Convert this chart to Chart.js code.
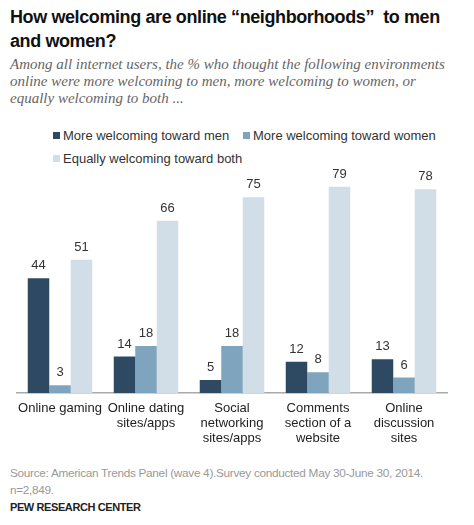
<!DOCTYPE html>
<html>
<head>
<meta charset="utf-8">
<script src="https://cdn.jsdelivr.net/npm/chart.js@4"></script>
<style>
  body { margin: 0; background: #fff; width: 474px; height: 525px; position: relative; overflow: hidden; font-family: "Liberation Sans", Arial, sans-serif; }
  #title { position: absolute; left: 10px; top: 5px; font-weight: bold; font-size: 18px; line-height: 24px; color: #111; letter-spacing: -0.4px; }
  #subtitle { position: absolute; left: 10px; top: 56px; font-family: "Liberation Serif", serif; font-style: italic; font-size: 15px; line-height: 17px; color: #666; }
  #legend { position: absolute; left: 53px; top: 128px; font-size: 13px; color: #333; }
  .item { position: absolute; white-space: nowrap; }
  .item span { display: inline-block; width: 7px; height: 7px; margin-right: 3px; vertical-align: 1px; }
  #chartBox { position: absolute; left: 0; top: 150px; width: 474px; height: 304px; }
  #source { position: absolute; left: 10px; top: 465px; font-size: 11.8px; letter-spacing: -0.3px; line-height: 17px; color: #999; }
  #pew { position: absolute; left: 10px; top: 501px; font-size: 11px; letter-spacing: -0.4px; font-weight: bold; color: #222; }
</style>
</head>
<body>
<div id="title">How welcoming are online “neighborhoods”&nbsp; to men<br>and women?</div>
<div id="subtitle">Among all internet users, the % who thought the following environments<br>online were more welcoming to men, more welcoming to women, or<br>equally welcoming to both ...</div>
<div id="legend"></div>
<div id="chartBox"><canvas id="chart"></canvas></div>
<div id="source">Source: American Trends Panel (wave 4).Survey conducted May 30-June 30, 2014.<br>n=2,849.</div>
<div id="pew">PEW RESEARCH CENTER</div>

<script>
// Data
const categories = [
    ['Online gaming'],
    ['Online dating', 'sites/apps'],
    ['Social', 'networking', 'sites/apps'],
    ['Comments', 'section of a', 'website'],
    ['Online', 'discussion', 'sites']
];
const seriesNames = ['More welcoming toward men', 'More welcoming toward women', 'Equally welcoming toward both'];
const towardMen = [44, 14, 5, 12, 13];
const towardWomen = [3, 18, 18, 8, 6];
const equallyBoth = [51, 66, 75, 79, 78];
const seriesColors = ['#2e4a63', '#7fa4bd', '#d1dee7'];

// Legend drawn as html (two rows like the original)
const legendPos = [[0, 0], [190, 0], [0, 23]];
const legendEl = document.getElementById('legend');
seriesNames.forEach((name, i) => {
    const div = document.createElement('div');
    div.className = 'item';
    div.style.left = legendPos[i][0] + 'px';
    div.style.top = legendPos[i][1] + 'px';
    div.innerHTML = `<span style="background:${seriesColors[i]}"></span>${name}`;
    legendEl.appendChild(div);
});

// Value labels above each bar
const valueLabels = {
    id: 'valueLabels',
    afterDatasetsDraw(chart) {
        const ctx = chart.ctx;
        ctx.save();
        ctx.font = '13px "Liberation Sans", Arial, sans-serif';
        ctx.fillStyle = '#333';
        ctx.textAlign = 'center';
        ctx.textBaseline = 'bottom';
        chart.data.datasets.forEach((ds, i) => {
            chart.getDatasetMeta(i).data.forEach((bar, j) => {
                ctx.fillText(ds.data[j], bar.x, bar.y - 6);
            });
        });
        ctx.restore();
    }
};

const ctx = document.getElementById('chart').getContext('2d');
new Chart(ctx, {
    type: 'bar',
    data: {
        labels: categories,
        datasets: [
            { label: seriesNames[0], data: towardMen, backgroundColor: seriesColors[0] },
            { label: seriesNames[1], data: towardWomen, backgroundColor: seriesColors[1] },
            { label: seriesNames[2], data: equallyBoth, backgroundColor: seriesColors[2] }
        ]
    },
    options: {
        responsive: true,
        maintainAspectRatio: false,
        animation: false,
        layout: { padding: { left: 17, right: 27, top: 21, bottom: 0 } },
        datasets: { bar: { categoryPercentage: 0.75, barPercentage: 1.0 } },
        scales: {
            x: {
                grid: { display: false, drawTicks: false },
                border: { display: true, color: '#aaa', width: 1.5 },
                ticks: {
                    color: '#222',
                    padding: 8,
                    maxRotation: 0,
                    autoSkip: false,
                    font: { size: 13, family: '"Liberation Sans", Arial, sans-serif', lineHeight: 1.15 }
                }
            },
            y: {
                display: false,
                min: 0,
                max: 85
            }
        },
        plugins: {
            legend: { display: false },
            tooltip: { enabled: false }
        }
    },
    plugins: [valueLabels]
});
</script>
</body>
</html>
